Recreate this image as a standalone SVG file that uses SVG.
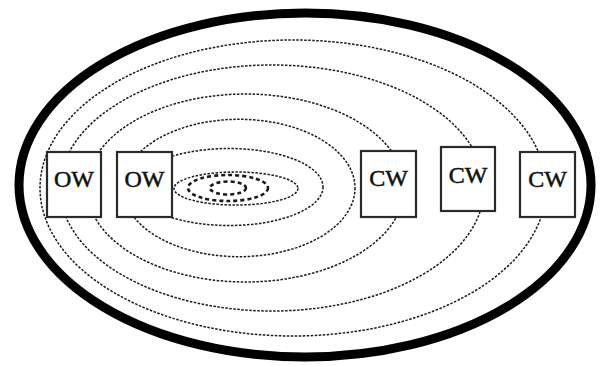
<svg xmlns="http://www.w3.org/2000/svg" width="600" height="366" viewBox="0 0 600 366">
<style>
.outer{fill:none;stroke:#000;stroke-width:9}
.ring{fill:none;stroke:#1a1a1a;stroke-width:1.5;stroke-dasharray:2.5 1.5}
.core{fill:none;stroke:#1a1a1a;stroke-width:2.6;stroke-dasharray:4 3}
.box{fill:#fff;stroke:#2a2a2a;stroke-width:2.2}
.lbl{font-family:"Liberation Serif","Times New Roman",serif;font-size:24px;fill:#111;stroke:#111;stroke-width:0.5;text-anchor:middle}
</style>
<rect width="600" height="366" fill="#fff"/>
<g id="connectors">
<ellipse class="outer" cx="305" cy="185" rx="286" ry="172"/>
<ellipse class="ring" cx="293" cy="188" rx="253" ry="148"/>
<ellipse class="ring" cx="272" cy="188" rx="212" ry="123"/>
<ellipse class="ring" cx="245.5" cy="188" rx="158.7" ry="94"/>
<ellipse class="ring" cx="239" cy="188" rx="116" ry="68.7"/>
<ellipse class="ring" cx="229" cy="187" rx="94" ry="38.5"/>
<ellipse class="ring" cx="236" cy="188.5" rx="62" ry="16.5"/>
<ellipse class="core" cx="228" cy="188" rx="40" ry="13"/>
<ellipse class="core" cx="228" cy="188" rx="18" ry="6.5"/>
</g>
<g id="ow1"><rect class="box" x="47" y="152" width="54" height="65"/><text class="lbl" x="74" y="187">OW</text></g>
<g id="ow2"><rect class="box" x="117" y="152" width="55" height="65"/><text class="lbl" x="144.5" y="187">OW</text></g>
<g id="cw1"><rect class="box" x="361" y="151" width="55" height="66"/><text class="lbl" x="388.5" y="186">CW</text></g>
<g id="cw2"><rect class="box" x="441" y="147" width="54" height="64"/><text class="lbl" x="468" y="183">CW</text></g>
<g id="cw3"><rect class="box" x="520" y="152" width="55" height="65"/><text class="lbl" x="547.5" y="187">CW</text></g>
</svg>
